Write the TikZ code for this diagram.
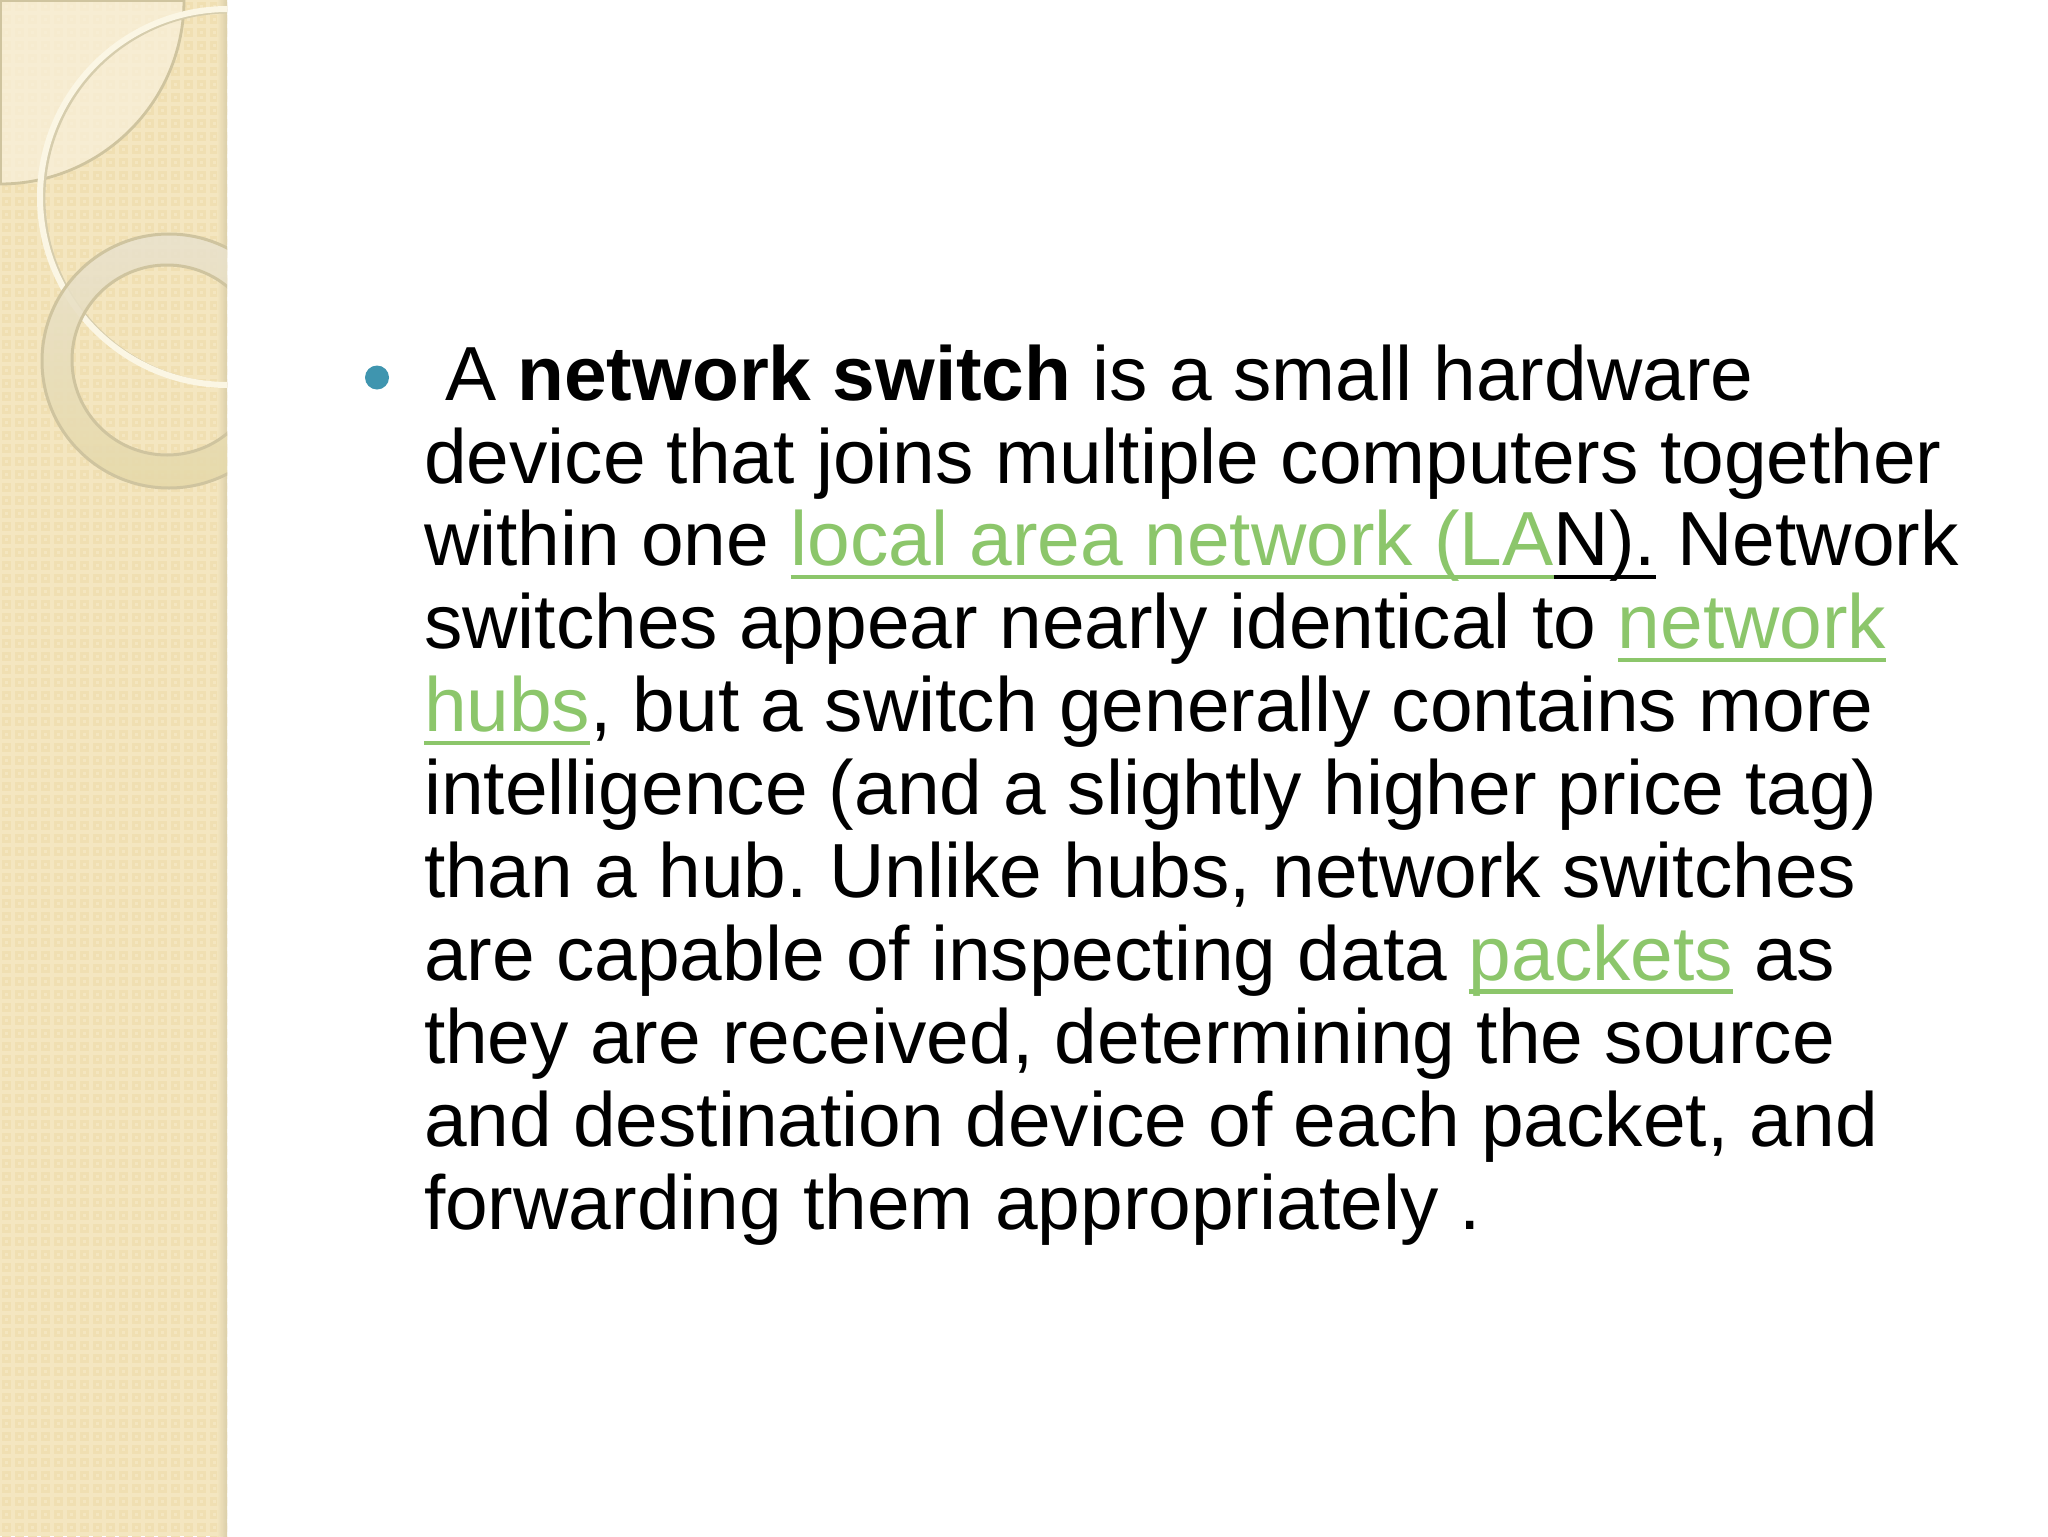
\documentclass[tikz,border=0pt]{standalone}
\usepackage{fontspec}
\setmainfont{Liberation Sans}
\definecolor{panelbg}{HTML}{F4E6C0}
\definecolor{paneldot}{HTML}{F0DFB2}
\definecolor{panelhi}{HTML}{F9F1DC}
\definecolor{paneledge}{HTML}{D9CDA8}
\definecolor{ringline}{HTML}{CFC49F}
\definecolor{ringtop}{HTML}{E9E2CE}
\definecolor{ringbot}{HTML}{E6D9A9}
\definecolor{cream}{HTML}{FBF6E4}
\definecolor{linkgreen}{HTML}{8CC66B}
\definecolor{bullet}{HTML}{3F95AF}
\newsavebox{\ulbox}
\newcommand{\ulc}[2]{{\color{#1}\sbox{\ulbox}{#2}\rlap{\rule[-6.7pt]{\wd\ulbox}{2.3pt}}\usebox{\ulbox}}}
\newcommand{\lnk}[1]{\ulc{linkgreen}{#1}}
\tikzset{
  line/.style={anchor=base west,inner sep=0pt,outer sep=0pt,font=\fontsize{38.35pt}{46pt}\selectfont\frenchspacing,text=black},
  x=0.5pt,y=-0.5pt
}
\begin{document}
\begin{tikzpicture}
\useasboundingbox (0,0) rectangle (2048,1536);
\fill[white] (0,0) rectangle (2048,1536);
\begin{scope}
\clip (0,0) rectangle (227,1536);
\fill[panelbg] (0,0) rectangle (227,1536);
\foreach \i in {0,...,17}{
  \foreach \j in {0,...,118}{
    \pgfmathsetmacro{\px}{\i*13+2}
    \pgfmathsetmacro{\py}{\j*13+2}
    \fill[paneldot] (\px,\py) rectangle +(9,9);
    \fill[panelbg] (\px+3,\py+3) rectangle +(3,3);
  }
}
\shade[left color=panelbg,right color=paneledge,opacity=0.9] (217,0) rectangle (227,1536);
% quarter disc
\fill[panelhi,fill opacity=0.7] (0,0) -- (184,0) arc[start angle=0,end angle=90,radius=184] -- cycle;
\draw[ringline,line width=1.4pt] (184,0) arc[start angle=0,end angle=90,radius=184];
\draw[ringline,line width=2pt] (0,0) -- (0,184);
\draw[ringline,line width=2pt] (0,0) -- (184,0);
% thin big ring
\draw[ringline!85,line width=2.4pt] (230,198) circle[radius=187];
\draw[cream,line width=3pt] (228,197) circle[radius=188];
% thick ring
\shade[even odd rule,top color=ringtop,bottom color=ringbot,opacity=0.88]
  (169,361) circle[radius=127] (167,360) circle[radius=95];
\draw[ringline,line width=1.5pt] (169,361) circle[radius=127] (167,360) circle[radius=95];
\end{scope}
\fill[bullet] (377,377.5) circle[radius=12];
\node[line] (l1) at (445,400) {A \textbf{network switch} is a small hardware};
\node[line] (l2) at (424,483) {device that joins multiple computers together};
\node[line] (l3) at (424,565.9) {within one \lnk{local area network (LA}\ulc{black}{N).} Network};
\node[line] (l4) at (424,648.8) {switches appear nearly identical to \lnk{network}};
\node[line] (l5) at (424,731.7) {\lnk{hubs}, but a switch generally contains more};
\node[line] (l6) at (424,814.6) {intelligence (and a slightly higher price tag)};
\node[line] (l7) at (424,897.5) {than a hub. Unlike hubs, network switches};
\node[line] (l8) at (424,980.4) {are capable of inspecting data \lnk{packets} as};
\node[line] (l9) at (424,1063.3) {they are received, determining the source};
\node[line] (l10) at (424,1146.2) {and destination device of each packet, and};
\node[line] (l11) at (424,1229) {forwarding them appropriately .};
\end{tikzpicture}
\end{document}
